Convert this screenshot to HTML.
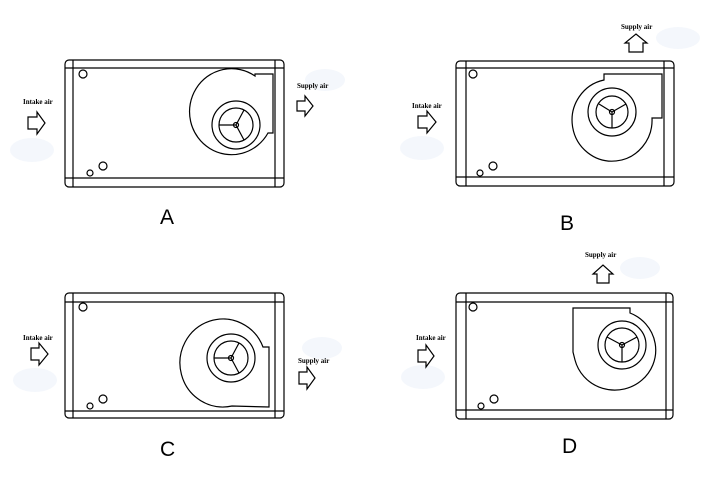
<!DOCTYPE html>
<html><head><meta charset="utf-8"><style>
html,body{margin:0;padding:0;background:#fff;}
svg{display:block}
text{font-family:"Liberation Serif",serif;font-weight:bold;font-size:7px;fill:#000}
.L{font-family:"Liberation Sans",sans-serif;font-weight:normal;font-size:21px}
</style></head><body>
<svg width="718" height="490" viewBox="0 0 718 490" xmlns="http://www.w3.org/2000/svg" fill="none" stroke="#000" stroke-width="1.2">
<g fill="#f4f7fc" stroke="none">
<ellipse cx="32" cy="150" rx="22" ry="12"/><ellipse cx="325" cy="80" rx="20" ry="11"/>
<ellipse cx="422" cy="148" rx="22" ry="12"/><ellipse cx="678" cy="38" rx="22" ry="11"/>
<ellipse cx="35" cy="380" rx="22" ry="12"/><ellipse cx="322" cy="348" rx="20" ry="11"/>
<ellipse cx="423" cy="377" rx="22" ry="12"/><ellipse cx="640" cy="268" rx="20" ry="11"/>
</g>
<!-- Panel A -->
<rect x="65" y="60" width="219" height="127" rx="4"/>
<line x1="65" y1="68" x2="284" y2="68"/><line x1="65" y1="178" x2="284" y2="178"/>
<line x1="73" y1="60" x2="73" y2="187"/><line x1="275" y1="60" x2="275" y2="187"/>
<circle cx="83" cy="74" r="4"/><circle cx="103" cy="166" r="4"/><circle cx="90" cy="173" r="3"/>
<path d="M268 133 A42 43 0 1 1 255 76 L255 74 L273 74 L273 133 Z"/>
<circle cx="236" cy="125" r="24"/><circle cx="236" cy="125" r="17"/><circle cx="236" cy="125" r="2.5"/>
<path d="M236 125 L219 125 M236 125 L244 110 M236 125 L244 140"/>
<!-- Panel B -->
<rect x="456" y="61" width="218" height="125" rx="4"/>
<line x1="456" y1="68" x2="674" y2="68"/><line x1="456" y1="177" x2="674" y2="177"/>
<line x1="466" y1="61" x2="466" y2="186"/><line x1="664" y1="61" x2="664" y2="186"/>
<circle cx="473" cy="74" r="4"/><circle cx="493" cy="166" r="4"/><circle cx="480" cy="173" r="3"/>
<path d="M604 80 A40 41 0 1 0 652 118 L662 118 L662 74 L604 74 Z"/>
<circle cx="612" cy="112" r="24"/><circle cx="612" cy="112" r="16"/><circle cx="612" cy="112" r="2.5"/>
<path d="M612 112 L599 104 M612 112 L626 104 M612 112 L612 128"/>
<!-- Panel C -->
<rect x="65" y="293" width="219" height="125" rx="4"/>
<line x1="65" y1="302" x2="284" y2="302"/><line x1="65" y1="411" x2="284" y2="411"/>
<line x1="73" y1="293" x2="73" y2="418"/><line x1="275" y1="293" x2="275" y2="418"/>
<circle cx="83" cy="307" r="4"/><circle cx="103" cy="399" r="4"/><circle cx="90" cy="406" r="3"/>
<path d="M263 347 A43 44 0 1 0 232 406 L269 407 L269 347 Z"/>
<circle cx="231" cy="358" r="24"/><circle cx="231" cy="358" r="17"/><circle cx="231" cy="358" r="2.5"/>
<path d="M231 358 L214 358 M231 358 L239 343 M231 358 L239 373"/>
<!-- Panel D -->
<rect x="456" y="293" width="217" height="126" rx="4"/>
<line x1="456" y1="302" x2="673" y2="302"/><line x1="456" y1="410" x2="673" y2="410"/>
<line x1="466" y1="293" x2="466" y2="419"/><line x1="666" y1="293" x2="666" y2="419"/>
<circle cx="473" cy="307" r="4"/><circle cx="494" cy="399" r="4"/><circle cx="481" cy="406" r="3"/>
<path d="M630 313 A41 40 0 1 1 575 360 L573 352 L573 308 L630 308 Z"/>
<circle cx="622" cy="345" r="24"/><circle cx="622" cy="345" r="17"/><circle cx="622" cy="345" r="2.5"/>
<path d="M622 345 L607 337 M622 345 L637 337 M622 345 L622 362"/>
<!-- arrows -->
<g stroke-width="1.2">
<path d="M28 117 L37 117 L37 112 L45 123 L37 134 L37 129 L28 129 Z"/>
<path d="M297 101 L305 101 L305 96 L313 106 L305 116 L305 111 L297 111 Z"/>
<path d="M418 116 L427 116 L427 111 L436 122 L427 133 L427 128 L418 128 Z"/>
<path d="M629 52 L629 43 L625 43 L636 34 L647 43 L643 43 L643 52 Z"/>
<path d="M31 348 L39 348 L39 343 L48 354 L39 365 L39 360 L31 360 Z"/>
<path d="M299 372 L307 372 L307 367 L315 378 L307 389 L307 384 L299 384 Z"/>
<path d="M418 350 L426 350 L426 345 L434 356 L426 367 L426 362 L418 362 Z"/>
<path d="M597 283 L597 274 L593 274 L603 265 L613 274 L609 274 L609 283 Z"/>
</g>
<g stroke="none">
<text x="23" y="104">Intake air</text><text x="297" y="88">Supply air</text>
<text x="412" y="108">Intake air</text><text x="621" y="29">Supply air</text>
<text x="23" y="340">Intake air</text><text x="298" y="363">Supply air</text>
<text x="416" y="340">Intake air</text><text x="585" y="257">Supply air</text>
<text class="L" x="160" y="224">A</text><text class="L" x="560" y="230">B</text>
<text class="L" x="160" y="456">C</text><text class="L" x="562" y="453">D</text>
</g>
</svg>
</body></html>
